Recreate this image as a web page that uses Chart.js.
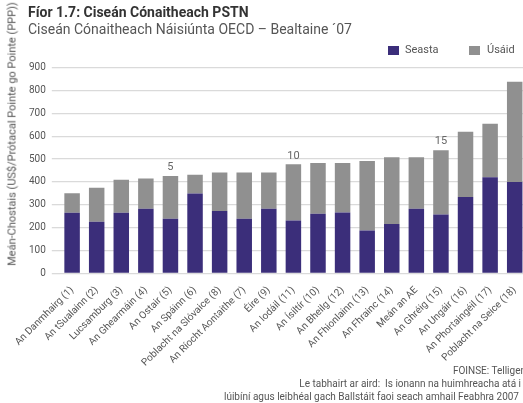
<!DOCTYPE html>
<html>
<head>
<meta charset="utf-8">
<script src="https://cdn.jsdelivr.net/npm/chart.js@4"></script>
<style>
html,body{margin:0;padding:0;width:523px;height:403px;overflow:hidden;background:#fff;font-family:Roboto,"Noto Sans",sans-serif;color:#555;}
#wrap{position:absolute;left:0;top:0;width:527px;height:403px;}
.t{position:absolute;white-space:nowrap;}
#title{left:28px;top:4px;font-size:14px;font-weight:bold;color:#333;}
#sub{left:28px;top:21px;font-size:14px;color:#555;}
.lg{position:absolute;top:46px;width:11px;height:9px;}
.lt{position:absolute;top:43px;font-size:11px;color:#555;white-space:nowrap;}
#ytitle{position:absolute;left:12px;top:134px;font-size:11px;color:#555;white-space:nowrap;transform:translate(-50%,-50%) rotate(-90deg);}
.ft{position:absolute;font-size:10px;line-height:12px;color:#555;white-space:nowrap;text-align:right;}
</style>
</head>
<body>
<div id="wrap"><canvas id="c" width="527" height="403"></canvas></div>
<div class="t" id="title">Fíor 1.7: Ciseán Cónaitheach PSTN</div>
<div class="t" id="sub">Ciseán Cónaitheach Náisiúnta OECD – Bealtaine ´07</div>
<div class="lg" style="left:388px;background:#3b2e7a"></div><div class="lt" style="left:405px">Seasta</div>
<div class="lg" style="left:469px;background:#909090"></div><div class="lt" style="left:487px">Úsáid</div>
<div id="ytitle">Meán-Chostais (US$/Prótacal Pointe go Pointe (PPP))</div>
<div class="ft" style="right:-3px;top:365px">FOINSE: Telligen</div>
<div class="ft" style="right:2px;top:378px">Le tabhairt ar aird:&nbsp; Is ionann na huimhreacha atá i</div>
<div class="ft" style="right:4px;top:391px">lúibíní agus leibhéal gach Ballstáit faoi seach amhail Feabhra 2007</div>
<script>
const categories = ["An Danmhairg (1)", "An tSualainn (2)", "Lucsamburg (3)", "An Ghearmáin (4)", "An Ostair (5)", "An Spáinn (6)", "Poblacht na Slóvaice (8)", "An Ríocht Aontaithe (7)", "Éire (9)", "An Iodáil (11)", "An Ísiltír (10)", "An Bheilg (12)", "An Fhionlainn (13)", "An Fhrainc (14)", "Meán an AE", "An Ghréig (15)", "An Ungáir (16)", "An Phortaingéil (17)", "Poblacht na Seice (18)"];
const seasta = [265, 226, 265, 283, 239, 349, 273, 239, 283, 231, 261, 266, 187, 216, 283, 257, 334, 420, 400];
const usaid  = [85, 149, 145, 132, 187, 82, 168, 202, 158, 246, 222, 217, 305, 292, 225, 282, 286, 235, 439];
const markLabels = ["", "", "", "", "5", "", "", "", "", "10", "", "", "", "", "", "15", "", "", ""];
const yTicks = [0, 100, 200, 300, 400, 500, 600, 700, 800, 900];

const markPlugin = {
  id: 'marks',
  afterDatasetsDraw(chart) {
    const ctx = chart.ctx;
    const meta = chart.getDatasetMeta(1);
    ctx.save();
    ctx.font = '11px Roboto';
    ctx.fillStyle = '#666';
    ctx.textAlign = 'center';
    ctx.textBaseline = 'bottom';
    markLabels.forEach((l, i) => {
      if (!l) return;
      const el = meta.data[i];
      ctx.fillText(l, el.x, el.y - 3);
    });
    ctx.restore();
  }
};

new Chart(document.getElementById('c'), {
  type: 'bar',
  data: {
    labels: categories,
    datasets: [
      { label: 'Seasta', data: seasta, backgroundColor: '#3b2e7a', borderWidth: 0 },
      { label: 'Úsáid', data: usaid, backgroundColor: '#909090', borderWidth: 0 }
    ]
  },
  options: {
    responsive: false,
    animation: false,
    events: [],
    layout: { padding: { top: 67.7, left: 0, right: 0, bottom: 0 } },
    plugins: { legend: { display: false }, tooltip: { enabled: false } },
    datasets: { bar: { categoryPercentage: 1, barPercentage: 0.63 } },
    scales: {
      x: {
        stacked: true,
        grid: { display: false },
        border: { display: false },
        ticks: { color: '#555', font: { family: 'Roboto', size: 10 }, maxRotation: 45, minRotation: 45, padding: 3, autoSkip: false },
        afterFit(s) { s.height = 403 - 273.3; s.paddingLeft = 0; s.paddingRight = 0; }
      },
      y: {
        stacked: true,
        min: 0, max: 900,
        afterBuildTicks(s) { s.ticks = yTicks.map(v => ({ value: v })); },
        grid: { color: '#dadada', lineWidth: 1.3, tickLength: 8, drawTicks: true },
        border: { display: false },
        ticks: { color: '#555', font: { family: 'Roboto', size: 10 }, padding: 6 },
        afterFit(s) { s.width = 59.8; s.paddingTop = 0; s.paddingBottom = 0; }
      }
    }
  },
  plugins: [markPlugin]
});
</script>
</body>
</html>
